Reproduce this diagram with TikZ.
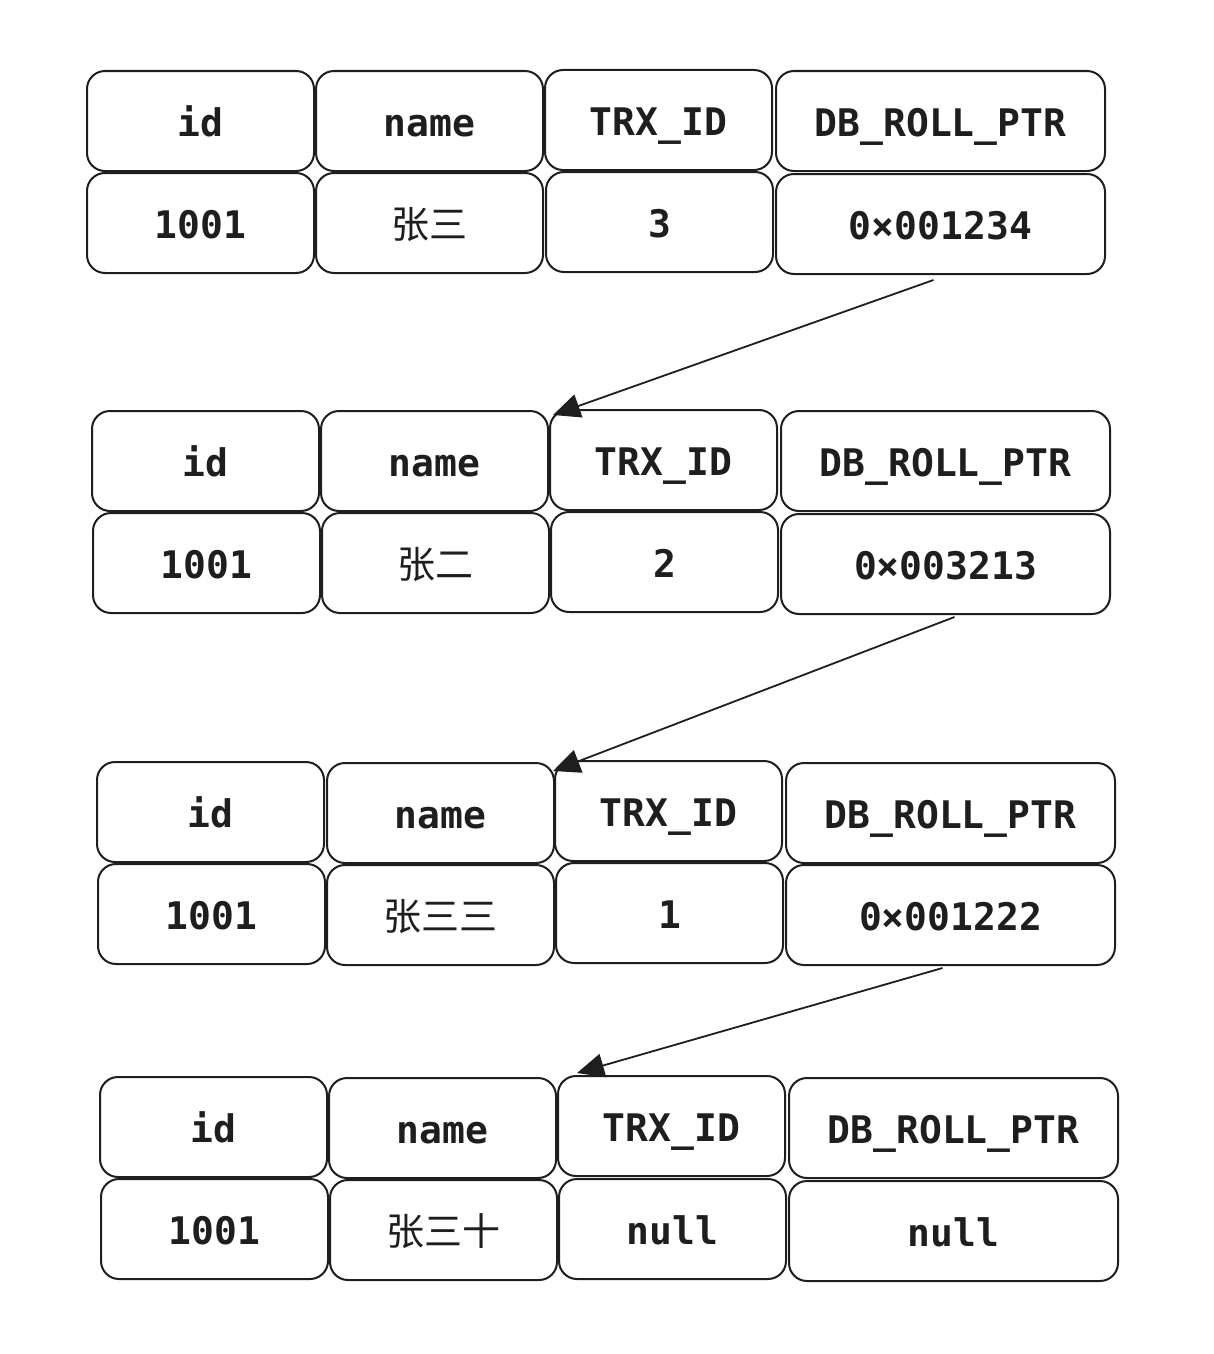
\documentclass[tikz,border=0pt]{standalone}
\usepackage{fontspec}
\setmonofont{DejaVu Sans Mono}
\newfontfamily\cjk{Noto Sans CJK SC}
\usetikzlibrary{arrows.meta,calc}
\definecolor{ink}{HTML}{1E1E1E}
\tikzset{
  cell/.style={draw=ink, line width=2pt, rounded corners=18pt, anchor=north west,
    minimum height=100pt, inner sep=0pt, text height=31pt, text depth=0pt, text=ink,
    font=\fontsize{38}{40}\selectfont\ttfamily\bfseries},
  narrow/.style={cell, minimum width=227pt},
  wide/.style={cell, minimum width=329pt},
  link/.style={draw=ink, line width=1.8pt, -{Triangle[length=27pt,width=24pt]}}
}
\newcommand{\zh}[1]{{\cjk\mdseries\fontsize{38}{40}\selectfont #1}}
\begin{document}
\begin{tikzpicture}[x=1pt,y=-1pt]
\useasboundingbox (0,0) rectangle (1214,1354);
% table 1
\node[narrow] (a1) at (86,70) {id};
\node[narrow] (a2) at (315,70) {name};
\node[narrow] (a3) at (544,69) {TRX\_ID};
\node[wide]   (a4) at (775,70) {DB\_ROLL\_PTR};
\node[narrow] (b1) at (86,172) {1001};
\node[narrow] (b2) at (315,172) {\zh{张三}};
\node[narrow] (b3) at (545,171) {3};
\node[wide]   (b4) at (775,173) {0×001234};
% table 2
\node[narrow] (c1) at (91,410) {id};
\node[narrow] (c2) at (320,410) {name};
\node[narrow] (c3) at (549,409) {TRX\_ID};
\node[wide]   (c4) at (780,410) {DB\_ROLL\_PTR};
\node[narrow] (d1) at (92,512) {1001};
\node[narrow] (d2) at (321,512) {\zh{张二}};
\node[narrow] (d3) at (550,511) {2};
\node[wide]   (d4) at (780,513) {0×003213};
% table 3
\node[narrow] (e1) at (96,761) {id};
\node[narrow] (e2) at (326,762) {name};
\node[narrow] (e3) at (554,760) {TRX\_ID};
\node[wide]   (e4) at (785,762) {DB\_ROLL\_PTR};
\node[narrow] (f1) at (97,863) {1001};
\node[narrow] (f2) at (326,864) {\zh{张三三}};
\node[narrow] (f3) at (555,862) {1};
\node[wide]   (f4) at (785,864) {0×001222};
% table 4
\node[narrow] (g1) at (99,1076) {id};
\node[narrow] (g2) at (328,1077) {name};
\node[narrow] (g3) at (557,1075) {TRX\_ID};
\node[wide]   (g4) at (788,1077) {DB\_ROLL\_PTR};
\node[narrow] (h1) at (100,1178) {1001};
\node[narrow] (h2) at (329,1179) {\zh{张三十}};
\node[narrow] (h3) at (558,1178) {null};
\node[wide]   (h4) at (788,1180) {null};
% links
\draw[link] ($(b4.south)+(-7,5)$) -- ($(c3.north west)+(4,6)$);
\draw[link] ($(d4.south)+(9,2)$) -- ($(e3.north west)+(-1,11)$);
\draw[link] ($(f4.south)+(-8,2)$) -- ($(g3.north west)+(20,-2)$);
\end{tikzpicture}
\end{document}
